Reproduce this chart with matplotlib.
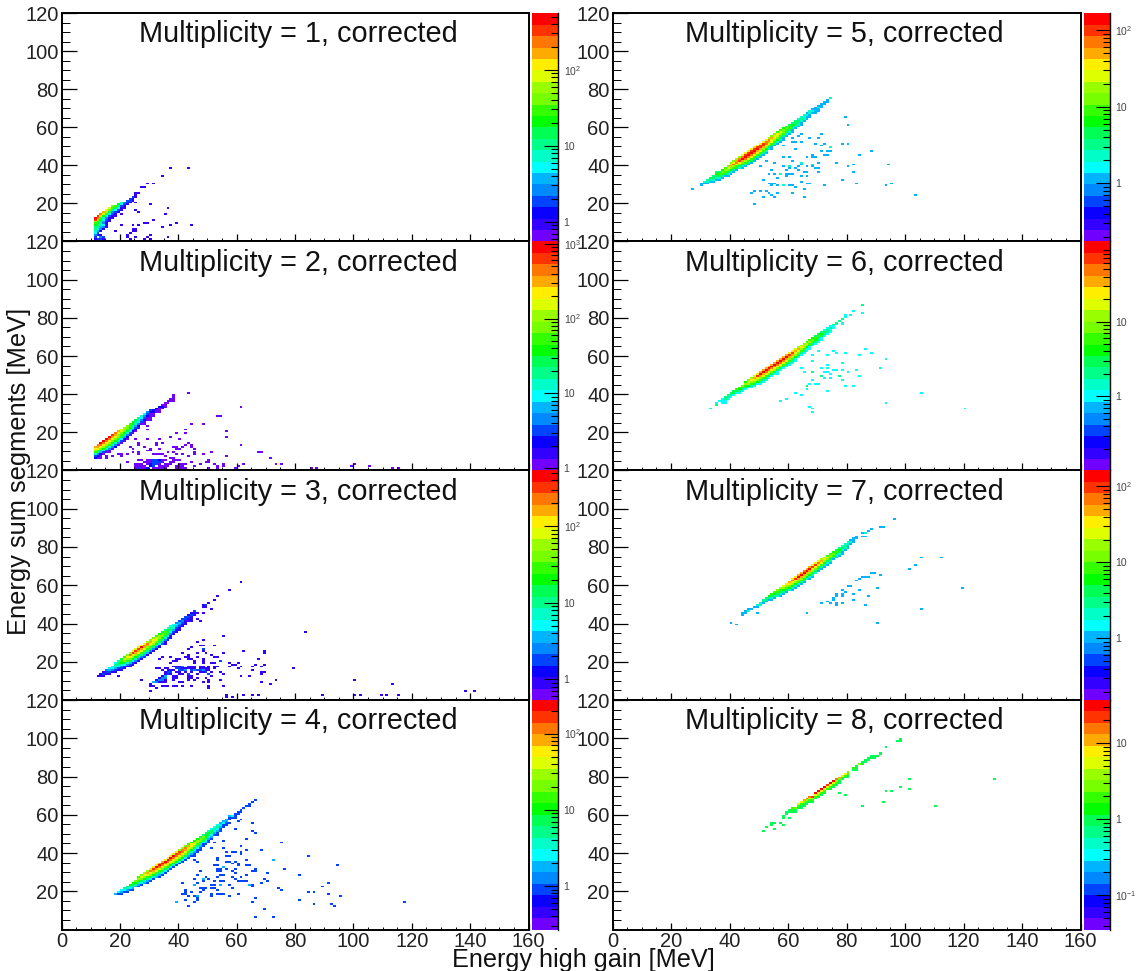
import numpy as np
import matplotlib
matplotlib.use('Agg')
import matplotlib.pyplot as plt
from matplotlib.colors import ListedColormap, LogNorm
from matplotlib.ticker import FixedLocator, MultipleLocator, NullFormatter

plt.rcParams['font.family'] = ['Liberation Sans', 'DejaVu Sans']
plt.rcParams['mathtext.default'] = 'regular'

W, H = 1137, 971

# ROOT palette, 20 levels
palette = ['#7000ff', '#3300ff', '#0a00ff', '#0044ff', '#0088ff', '#00b4ff', '#00ffff', '#00ffc8', '#00ff88', '#00ff55',
           '#00ff00', '#33ff00', '#77ff00', '#99ff00', '#ddff00', '#ffee00', '#ffaa00', '#ff7700', '#ff3300', '#ff0000']

# log10 of colour scale limits
zlim_1 = (-0.26, 2.74)
zlim_2 = (-0.03, 3.03)
zlim_3 = (-0.27, 2.73)
zlim_4 = (-0.57, 2.44)
zlim_5 = (-0.76, 2.22)
zlim_6 = (-0.99, 2.07)
zlim_7 = (-0.81, 2.21)
zlim_8 = (-1.45, 1.57)

# ridge columns: (x bin, top y bin, counts going down)
ridge_1 = [(11,12,[400,300,60,30,20,12,10,8,5,3,2,1,2]), (12,13,[300,200,40,20,15,12,10,6,4,2,1,0,2,3]),
           (13,14,[200,120,30,18,12,10,8,4,3,1,0,1,3,2,3]), (14,15,[160,70,20,8,5,4,3,5,3,1,0,0,0,2,1,1]),
           (15,16,[120,60,25,8,3,2,1,1,1,1,0,0,0,0,0,0,1]), (16,17,[70,40,15,5,2,1,1,1]), (17,18,[40,25,10,3,2,1,1]),
           (18,18,[25,15,6,2,1,1]), (19,19,[18,12,5,2,1]), (20,20,[8,6,2,1,1,0,1]), (21,20,[3,2,1,1]), (22,21,[2,2,1]),
           (23,22,[2,2,1]), (24,23,[2,1,1]), (25,24,[1,1]), (26,25,[1])]
ridge_2 = [(11,12,[300,250,120,50,15,3,2]), (12,13,[400,350,150,60,20,5,2,1]), (13,14,[800,500,200,90,30,6,2,1]),
           (14,15,[900,500,200,100,40,10,3,1]), (15,16,[850,450,200,100,45,12,3,1]), (16,17,[800,400,200,100,50,15,4,1,1]),
           (17,18,[600,350,170,90,40,15,4,1]), (18,19,[400,300,150,80,40,15,4,2]), (19,20,[300,220,120,70,30,12,4,1]),
           (20,21,[180,170,90,50,25,10,3,1]), (21,22,[120,110,70,35,18,6,2,1]), (22,23,[90,80,50,25,12,4,2,1]),
           (23,24,[60,55,35,18,8,3,1]), (24,25,[40,35,22,12,5,2,1]), (25,26,[25,22,14,7,3,2,1]), (26,27,[18,14,9,4,2,1]),
           (27,28,[12,8,5,3,1]), (28,29,[8,5,3,2,1,1]), (29,30,[4,3,2,1,1]), (30,31,[3,2,1,1,1]), (31,31,[2,2,1,1]),
           (32,32,[2,1,1]), (33,33,[2,1,1,1]), (34,34,[1,2,1]), (35,35,[1,1,1]), (36,36,[1,1]), (37,37,[1,1]), (38,39,[1,1,1,1])]
ridge_3 = [(12,12,[1]), (13,13,[1,1]), (14,14,[1,2,1]), (15,15,[3,2,1]), (16,16,[5,4,2,1]), (17,17,[6,5,3,1]),
           (18,19,[5,10,8,4,2,1]), (19,20,[8,15,10,5,2,1]), (20,21,[15,30,20,8,3,2,1]), (21,22,[25,70,35,15,5,2,1]),
           (22,23,[40,120,60,25,8,3,1]), (23,24,[50,200,100,40,15,4,2,1]), (24,25,[90,350,130,50,18,6,2,1]),
           (25,26,[80,320,150,60,22,8,3,1]), (26,27,[70,300,160,70,25,10,3,1]), (27,28,[100,450,160,70,30,10,3,1]),
           (28,29,[80,250,170,70,30,10,4,2]), (29,30,[60,200,140,60,25,12,4,1]), (30,31,[45,170,110,55,25,10,3,1]),
           (31,32,[35,130,90,50,25,10,3,1]), (32,33,[30,90,70,40,20,8,3,1]), (33,34,[20,60,50,30,15,6,2,1]),
           (34,35,[15,40,35,22,10,4,2]), (35,36,[10,30,25,15,7,3,1,1]), (36,37,[8,20,15,10,5,2,1]), (37,38,[6,12,10,6,3,1,1]),
           (38,39,[5,8,7,4,2,1]), (39,40,[3,6,4,2,1,1]), (40,41,[2,4,3,2,1,1]), (41,42,[2,3,2,1,1]), (42,43,[2,2,1,1,1]),
           (43,44,[1,2,1,1]), (44,45,[1,2,1,1]), (45,46,[2,1,1])]
ridge_4 = [(18,18,[2]), (19,19,[3,1]), (20,20,[3,2,1]), (21,21,[5,3,1]), (22,22,[6,4,2,1]), (23,23,[9,6,3,1]),
           (24,24,[12,8,4,2,1]), (25,25,[18,12,5,2]), (26,27,[15,30,15,6,2,1]), (27,28,[20,40,20,8,3,1]),
           (28,29,[25,50,30,12,4,2]), (29,30,[30,70,40,15,6,2,1]), (30,31,[40,120,60,25,8,3,1]), (31,32,[50,150,80,30,12,4,1]),
           (32,33,[60,200,90,35,15,5,2]), (33,34,[70,220,100,40,15,6,2,1]), (34,35,[75,240,110,45,18,7,3,1]),
           (35,36,[60,230,120,50,20,8,3,1]), (36,37,[50,220,130,55,25,10,3,1]), (37,38,[50,220,130,60,25,10,3,1]),
           (38,39,[40,200,130,60,30,12,4,1]), (39,40,[35,180,120,60,25,10,3,1]), (40,41,[30,150,110,55,25,12,4,1]),
           (41,42,[25,120,100,50,22,10,3,1]), (42,43,[20,100,80,40,18,8,3,1]), (43,44,[15,80,60,30,15,6,2,1]),
           (44,45,[12,60,50,25,10,4,2,1]), (45,46,[10,45,40,20,8,3,2,1]), (46,47,[10,30,30,15,6,3,1,1]), (47,48,[8,25,20,10,5,2,1,1]),
           (48,49,[6,18,15,8,3,1,1]), (49,50,[5,12,10,5,3,2,1]), (50,51,[4,10,8,4,2,1,1]), (51,52,[3,8,6,3,2,1]), (52,53,[3,6,4,2,1]),
           (53,54,[3,5,3,2,1,1]), (54,55,[2,4,2,1,1]), (55,56,[2,3,1,1]), (56,57,[2,2,1,1]), (57,59,[2,1,1]), (58,59,[3,1]),
           (59,60,[1,1,1]), (60,61,[1,1]), (61,62,[1,1]), (62,63,[1]), (63,64,[1]), (64,65,[1,1]), (65,66,[1]), (66,67,[1])]
ridge_5 = [(30,30,[1,1]), (31,31,[2,1]), (32,32,[3,2,1]), (33,33,[5,2,1]), (34,34,[3,5,2,1]), (35,36,[3,7,5,2,1]),
           (36,36,[4,9,5,2,1]), (37,37,[7,12,8,3,1]), (38,38,[10,18,10,4,1]), (39,39,[15,30,12,5,2,1]), (40,41,[12,30,45,18,6,2,1]),
           (41,42,[15,40,60,20,8,3,1]), (42,43,[18,50,80,25,10,4,1]), (43,44,[20,60,90,35,12,5,2]), (44,45,[25,70,130,45,15,6,2,1]),
           (45,46,[30,90,150,60,20,8,3,1]), (46,47,[35,100,160,70,25,10,3,1]), (47,48,[40,110,150,70,30,10,4,1]),
           (48,49,[40,110,150,60,25,10,4,1]), (49,50,[35,100,130,55,25,10,3,1]), (50,51,[30,90,110,50,22,9,3,1]),
           (51,52,[30,90,90,45,18,8,3,1]), (52,53,[25,80,70,35,15,6,2,1]), (53,54,[20,60,55,30,12,5,2]), (54,55,[15,50,40,22,10,4,1,1]),
           (55,56,[12,40,30,18,8,3,1]), (56,57,[10,30,25,12,6,2,1]), (57,58,[8,22,18,10,4,2,1]), (58,59,[7,15,14,8,3,1,1]),
           (59,60,[5,12,10,5,2,1]), (60,61,[4,9,8,4,2,1]), (61,62,[3,7,5,3,1,1]), (62,63,[3,5,4,2,1]), (63,64,[2,4,3,2,1]),
           (64,65,[2,3,2,1,1]), (65,66,[2,2,2,1]), (66,67,[1,2,1,1]), (67,68,[2,2,1,1]), (68,69,[1,2,1]), (69,70,[1,1,1,1]),
           (70,71,[1,2,1,1]), (71,72,[1,1,1]), (72,73,[1,1]), (73,74,[1,1]), (74,75,[2])]
ridge_6 = [(35,35,[1,2]), (36,36,[1]), (37,37,[1,1,1]), (38,38,[2,2,1,1]), (39,39,[2,2,1]), (40,40,[3,2,1]), (41,41,[3,3,1]),
           (42,42,[5,3,1]), (43,43,[6,4,2,1]), (44,44,[8,5,2,1]), (45,46,[4,12,7,3,1]), (46,47,[8,18,10,4,1]), (47,48,[10,28,14,6,2,1]),
           (48,49,[15,40,20,8,3,1]), (49,50,[22,60,25,10,4,1]), (50,51,[30,100,35,14,5,2,1]), (51,52,[30,110,40,15,6,2,1]),
           (52,53,[35,100,45,18,6,2,1]), (53,54,[35,110,50,20,8,3,1]), (54,55,[40,100,50,22,8,3,1]), (55,56,[40,110,50,22,10,3,1]),
           (56,57,[35,100,50,20,8,3,1]), (57,58,[40,110,45,20,8,3,1]), (58,59,[35,100,45,18,7,3,1]), (59,60,[30,90,40,15,6,2,1]),
           (60,61,[25,70,35,14,6,2,1]), (61,62,[22,60,30,12,5,2,1]), (62,63,[15,40,20,10,4,1,1]), (63,64,[12,30,18,8,3,1]),
           (64,65,[10,25,14,7,2,1]), (65,66,[8,20,12,5,2,1]), (66,67,[6,15,9,4,1,1]), (67,68,[5,10,7,3,1,1]), (68,69,[4,8,5,2,1]),
           (69,70,[3,6,4,2,1]), (70,71,[3,5,3,2,1]), (71,72,[2,4,3,1,1]), (72,73,[1,3,2,1]), (73,74,[1,2,2,1]), (74,75,[1,2,1,1]),
           (75,76,[2,1,1]), (76,77,[2,1]), (77,78,[2]), (78,79,[2,0,1,1]), (79,80,[1])]
ridge_7 = [(44,45,[1,1]), (45,46,[1,1]), (46,47,[1,2]), (47,47,[1]), (48,48,[1]), (49,49,[2,1]), (50,50,[2,2]), (51,52,[3,3,1]),
           (52,53,[5,3,1]), (53,54,[6,3,1]), (54,55,[8,5,2,1]), (55,56,[10,6,3,1]), (56,57,[12,8,4,2]), (57,58,[18,10,5,2,1]),
           (58,59,[25,15,7,3,1]), (59,60,[35,20,10,4,1]), (60,61,[50,30,14,6,2]), (61,63,[30,70,35,15,6,2,1]), (62,64,[40,100,40,18,6,2,1]),
           (63,65,[50,120,45,20,8,2,1]), (64,66,[50,150,50,20,8,3,1]), (65,67,[60,130,55,20,7,3,1]), (66,68,[50,140,50,20,6,2]),
           (67,69,[50,130,50,18,6,2,1]), (68,70,[40,110,40,15,5,2,1]), (69,71,[30,100,35,12,5,2]), (70,72,[25,80,30,10,4,1]),
           (71,73,[20,50,25,8,3,1]), (72,74,[15,40,20,6,2,1]), (73,75,[10,30,14,5,2,1]), (74,76,[8,20,10,4,2,1]), (75,77,[6,12,8,3,1]),
           (76,78,[4,10,5,2,1]), (77,79,[3,6,4,2,1]), (78,80,[2,4,2,1,1]), (79,81,[2,3,2,1]), (80,82,[2,2,1,1]), (81,83,[1,2,1]),
           (82,84,[1,1,1]), (83,85,[1,1])]
ridge_8 = [(59,61,[1,1]), (60,62,[1,1]), (61,63,[2,2,1]), (62,63,[3,1,1]), (63,65,[5,2,1]), (64,66,[8,2,1,1]), (65,67,[10,3,1,1]),
           (66,68,[18,4,2,1]), (67,69,[14,5,2,1]), (68,69,[25,6,2,1]), (69,71,[30,8,2,1]), (70,72,[30,9,3,1]), (71,73,[28,8,2,1]),
           (72,74,[30,7,2,1]), (73,75,[25,6,2]), (74,76,[30,6,2,1]), (75,77,[28,5,2,1]), (76,78,[15,4,2,1]), (77,79,[12,3,1,1]),
           (78,80,[8,2,1]), (79,81,[5,2,1]), (80,82,[3,2,1,1]), (82,84,[2,1]), (83,85,[1,1,1]), (84,86,[3]), (85,87,[1,1]),
           (86,88,[1,1]), (87,89,[1,1]), (88,90,[1,1]), (89,90,[1,1])]

# isolated cells away from the ridge: (x, y) counted once
stray_1 = [(37.5,38.2),(43.3,38.2),(34.4,34),(31.4,30.8),(29.3,30.3),(28.5,28.2),(27.5,28.2),(26.4,25),(25.5,25),(25.5,20.8),(30.3,19.7),
           (36.5,17),(25.5,16),(26.6,15),(35.4,14),(31.4,11.9),(28.5,9.7),(29.3,9.7),(39.5,9.7),(44.3,8.7),(37.5,8.2),(34.4,7.1),(24.5,8.2),
           (26.6,8.2),(20.4,8.7),(18.4,5),(14.3,2.9),(24.6,6),(25.6,6),(24.6,5),(25.6,5),(22.5,3),(22.5,2.4),(23.5,4),(25.5,2.9),(30.3,3.9),
           (36.5,2.9),(29.3,2.4),(28.5,1.9),(30.3,1.9),(32.4,0.8),(23.5,1.9),(14.3,0.8),(1.6,0),(17,0),(18,0),(19,0),(20,0),(22,0),(23,0),(24,0),
           (25,0),(26,0),(27,0),(30,0),(32,0),(35.5,0),(41.6,0),(50.5,0),(56.3,0),(69.6,0)]
stray_2 = [(43.3,40.2),(61.4,33.9),(53,28),(54,28),(44.3,24.9),(48.4,24.9),(29.3,23.9),(30.3,26),(29.3,21.8),(42.3,21.8),(56.3,20.7),(39.5,19.1),
           (42.3,19.1),(37.5,17),(56.3,17),(25.5,16),(29.3,16),(33.4,16),(40.6,16),(43.3,14.9),(61.4,13.9),(26.6,14),(26.6,13),(28.6,12.8),
           (32.4,14),(32.4,13),(34.4,14),(38,12.8),(39,12.8),(41.6,12.8),(42.3,13.8),(44.3,13.8),(44.3,12.8),(45.3,11.8),(40.2,11.8),(39.5,11.8),
           (24.2,11.8),(30.7,11.8),(33.4,11.8),(23.5,12.8),(67.2,9.7),(68.2,9.7),(51.5,9.7),(45.3,9.7),(45.3,8.6),(48.4,8.6),(43.3,7),(56.3,7),
           (71.3,6),(41.6,8),(39.5,8),(38.2,9.7),(36.5,9.7),(38.2,6.5),(37.2,6.5),(35.5,7),(31.4,8.6),(32.4,8.6),(33.4,8.6),(34.4,8.6),(29.5,10.5),
           (30.5,10.5),(26.6,9.7),(26.6,8.6),(24.5,9.7),(22.5,8.6),(19.4,8.6),(20.4,8.6),(20.4,7.5),(17.4,7),(15.7,7),(15.7,6),(13.6,6),(22.5,4.9),
           (26.5,5.9),(27.5,5.9),(44.3,4.9),(50.5,5.9),(50.5,4.9),(49.5,4.9),(47.4,3.9),(52.5,3.9),(55.2,3.9),(55.2,2.8),(62.4,3.9),(73.3,3.9),
           (75.4,3.9),(60.4,2.8),(59.4,1.8),(45.3,2.8),(50.5,1.8),(53.5,2.8),(53.5,1.8),(61.4,0),(63.4,0),(65.5,0),(69.2,0),(71.3,0),(73.3,0),(77.4,0),
           (79.5,0),(81.6,0),(82.5,0),(45,0),(46.7,0),(52.5,0),(53.5,0),(100.5,3),(105.5,2),(113.5,1),(115.5,1),(118.5,0),(120.5,0),(99.5,2),
           (85.5,1),(87.5,1),(90.5,0),(94.5,0),
           (29,5),(30,5),(31,5),(32,5),(33,5),(34,5),(35,5),(38,5),(39,5),(40,5),
           (28,4),(29,4),(30,4),(31,4),(32,4),(33,4),(34,4),(37,4),(38,4),
           (25,3),(26,3),(27,3),(29,3),(30,3),(31,3),(32,3),(33,3),(35,3),(36,3),(37,3),(40,3),(41,3),(42,3),
           (25,2),(26,2),(27,2),(28,2),(30,2),(31,2),(33,2),(34,2),(35,2),(36,2),(39,2),(40,2),(41,2),
           (25,1),(26,1),(27,1),(28,1),(29,1),(31,1),(32,1),(33,1),(34,1),(35,1),(39,1),(40,1),(41,1),(42,1),
           (31,0),(34,0),(35,0),(40,0),(41,0),(42,0)]
stray_3 = [(61.4,61.6),(57.3,57.3),(53.5,54.2),(52.5,52.6),(50.5,50.5),(48.5,49.5),(49.5,49.5),(48.5,48.4),(49.5,48.4),(51.5,47.3),(46.4,45.2),
           (48.4,45.2),(46.4,42),(47.4,41),(44.3,41),(83.2,35.2),(55.2,33.1),(46.4,30.5),(48.4,31),(47.4,28.4),(48.4,28.4),(52.5,28.4),(44.3,27.3),
           (43.3,26.3),(48.4,26.3),(48.4,25.2),(49.4,24.2),(46.5,24.2),(41.6,24.2),(55.2,24.2),(62.4,25.2),(69.2,25.2),(69.2,24.2),(51.5,23.1),(52.5,22),
           (53.5,22),(39.5,21),(40.6,21.5),(43.3,23),(43.3,22),(43.3,21),(44.3,21),(46.4,22),(45.3,20.9),(48.4,21),(42.3,22),(34.4,22),(37.5,22),(33.4,21),
           (67.2,21),(37.5,19),(38.5,20),(39.5,20),(45.3,19),(48.4,20),(48.4,19),(51.5,19.4),(52.5,19),(54.6,20),(57.3,19.4),(60.4,19.4),(58.3,18.4),
           (59.3,18.4),(57,17.4),(61.4,17.4),(60.4,16.3),(65.5,17.4),(66.5,18.4),(69.2,18.4),(68.2,17.4),(65.5,15.2),(68.2,14.2),(69.2,14.2),(68.2,13.2),(79.5,16.3),
           (38,17),(39,17),(40,17),(41,17),(43,17),(44,17),(45,17),(47,17),(48,17),(50,17),(52,17),(53,17),
           (32,16),(33,16),(35,16),(36,16),(39,16),(40,16),(41,16),(42,16),(43,16),(44,16),(45,16),(47,16),(48,16),(49,16),(50,16),(52,16),
           (34,15),(36,15),(37,15),(38,15),(40,15),(41,15),(42,15),(44,15),(45,15),(46,15),(47,15),(48,15),(49,15),(50,15),
           (35,14),(36,14),(37,14),(39,14),(40,14),(42,14),(44,14),(47,14),(48,14),(49,14),(51,14),(54,14),
           (35,13),(36,13),(37,13),(40,13),(41,13),(43,13),(46,13),(50,13),(55,13),
           (34,12),(35,12),(38,12),(39,12),(43,12),(44,12),(51,12),(61,12),(64,12),(19,12),
           (33,11),(34,11),(35,11),(38,11),(39,11),(43,11),(44,11),(46,11),(49,11),
           (27,10),(32,10),(33,10),(34,10),(35,10),(38,10),(43,10),(45,10),(50,10),(54,10),(73,10),(100,10),
           (31,9),(32,9),(33,9),(34,9),(35,9),(40,9),(41,9),(48,9),(50,9),(68,9),(30,8),(71,8),(113,8),
           (30,7),(31,7),(34,7),(35,7),(36,7),(38,7),(39,7),(41,7),(44,7),(50,7),(55,7),
           (32,6),(50,6),(30,4),(138,4),(141,4),(56,2),(62,2),(65,2),(67,2),(89,2),(100,2),(102,2),(109,2),(111,2),(115,2),(56,1),(58,1)]
stray_4 = [(65.5,55.4),(61.4,57.5),(60.4,56.5),(57.3,55),(59.3,52.3),(65.5,51.2),(66.5,50.7),(63.4,47.5),(75.4,45.4),(55.2,46),(52.5,45.4),(61.4,43.3),(63.4,41.2),
           (68.2,41.2),(56.3,40.2),(58.5,40.2),(59.5,40.2),(61.4,40.2),(61.4,39),(51.5,42.3),(55.2,42.3),(84.3,38.6),(56.3,38.6),(57.3,38),(63.4,36.5),
           (53.5,37.5),(53.5,36.5),(45.3,38.6),(45.3,36.5),(46.4,35.4),(56.3,35),(57.3,35.4),(59.3,35.4),(58.3,34.5),(60.4,34.5),(60.4,33.3),(52,33.3),(53,33.3),(63,33.3),
           (64,33.3),(94.2,33.3),(56.3,31.8),(66.5,31.2),(76.4,31.2),(53,31.2),(54,31.2),(53,30.2),(54,30.2),(59.3,31.2),(58.3,30.2),(59.3,29.5),(59.3,29),(65,30.2),
           (66,30.2),(47.4,30.2),(70.3,29),(81.2,28.6),(46.4,28.6),(54.6,28),(55.6,28),(49.5,27.5),(53.5,27),(58.3,27.5),(61.4,27.5),(63.4,28),(45.3,26.5),(50.5,26.5),
           (52,25.5),(54,25.5),(55,25.5),(59.3,26.5),(60.4,25.5),(61.4,25.5),(62.4,25.5),(63.4,25.5),(70.3,25.5),(68.2,24.4),(69.2,26.5),(91.5,24.4),(41.6,24.4),(46.4,24.4),(48.4,25),
           (51,23.3),(52,23.3),(57.3,23.3),(65.5,23.3),(65.5,22.3),(89.4,22.3),(47,21.7),(48,21.7),(51,21.7),(52,21.7),(49.5,21.2),(53.5,20.5),(58.3,21.2),(74.4,21.2),(75.4,20.2),(42.6,20.2),
           (42.6,19.1),(44.3,19.1),(48.4,20.5),(47.4,19.5),(84.3,19.1),(86.3,19.1),(91.5,18),(95.2,17.5),(41,18),(42,18),(43,17.5),(45,17.5),(46.4,17.5),(51.5,18),(51.5,17),(54.6,18.5),
           (53.5,18),(55.2,18),(57.3,17.5),(60.4,18),(42.6,15.4),(45.3,14.4),(46.4,16.5),(46.4,15.4),(66.5,16.5),(81.2,15.4),(65.5,14.4),(117.4,14.4),(86.3,13.3),(92.5,13.3),(93.2,12.3),
           (43.3,12.3),(69.2,10.2),(66.5,6.5),(72.3,6.5)]
stray_5 = [(27.6,27.1),(79.5,65),(80.6,61.3),(78.6,51.3),(80.6,51.3),(88.5,47),(84.4,45),(71.4,47),(73.5,47),(74.5,47),(72.4,45),(73.5,45),(71.4,56),(70.4,54),(67.7,54),(64.6,56),
           (63.6,55),(64.6,52.9),(61.5,52.9),(62.5,52.9),(61.5,54),(69.7,51.8),(72.4,51.8),(71.4,50.2),(62.5,48.1),(58.4,50.2),(68.7,45),(68.7,44),(69.7,44),(66.6,44),(61.5,42.9),(60.5,44),
           (58.4,44),(52.6,42.9),(55.7,41.8),(70.4,41.8),(76.5,41.8),(64.6,40.8),(63.6,39.7),(50.6,39.2),(58.4,39.2),(60.5,38.1),(62.5,38.1),(66.6,39.2),(68.7,39.2),(69.7,38.1),(70.4,38.1),
           (80.6,39.2),(82.7,40.2),(94.7,40.2),(54.7,37),(59.5,37),(63.6,37),(65.6,36),(66.6,36),(70.4,36),(82.7,36),(53.6,35),(55.7,35),(59.5,35),(60.5,35),(61.5,35),(59.5,34),(56.7,33.4),
           (64.6,34),(66.6,34),(51.6,32.9),(78.6,32.9),(64.6,31.8),(53.6,30.7),(54.6,30.7),(55.7,30.7),(66.6,30.7),(67.7,30.7),(83.4,30.7),(95.4,30.7),(54.7,29.7),(56.7,29.7),(60.5,29.2),(61.5,29.7),
           (72.4,29.7),(93.7,29.7),(62.5,28.1),(65.6,27.1),(50.6,26.5),(48.5,26),(47.5,25),(52.6,26),(53.6,25),(56.7,25.5),(61.5,25),(54.7,24),(51.6,23),(55.7,23),(65.6,23),(103.5,24),(48.5,19.7)]
stray_6 = [(82.7,83.4),(85.4,82.3),(79.6,81.3),(79.6,80.3),(81.6,81.3),(33.4,32.9),(35.5,35.3),(86.4,63.9),(75.5,62.9),(76.5,61.8),(79.6,61.8),(88.5,61.3),(73.4,60.2),(84.4,60.2),(70.4,62.9),
           (68.6,60.2),(93.6,58.1),(68.6,57),(78.6,56),(64.5,53.9),(71.4,53.9),(73.4,55),(73.4,53.9),(75.5,52.9),(76.5,52.9),(78.6,52.9),(83.3,52.9),(91.5,53.9),(65.6,51.8),(72.4,51.3),(73.4,51.3),
           (80.6,51.8),(56.7,50.2),(74.5,50.2),(84.4,49.2),(72.4,48.1),(74.5,48.1),(68.6,47),(78.6,47),(67.6,45),(69.7,45),(70.4,45),(66.6,42.9),(79.6,44),(82.7,44),(73.4,41.8),(62.5,40.2),(64.5,39.2),
           (105.6,40.2),(59.4,37),(57.7,36),(93.6,35),(67.6,33.9),(68.6,32.9),(68.6,30.7),(120.6,32.9)]
stray_7 = [(96.3,94.2),(91.6,90.5),(92.6,90.5),(88.5,89.5),(87.5,88.4),(85.4,87.4),(85.4,85.3),(86.4,85.3),(105.6,74.2),(112.4,74.2),(103.5,70.5),(101.5,68.4),(88.5,66.3),(89.5,66.3),(91.6,65.3),
           (85.4,64.2),(86.4,64.2),(87.5,64.2),(84.4,63.2),(83.3,62.1),(80.6,59.5),(81.6,59.5),(78.6,57.4),(84.4,57.4),(90.5,58.4),(119.6,58.4),(79.6,56.3),(76.5,55.3),(76.5,54.2),(78.6,55.3),(78.6,54.2),
           (82.7,55.3),(87.5,54.2),(75.5,53.2),(75.5,52),(82.7,52),(71.4,50.5),(73.4,51),(74.5,50.5),(76.5,50.5),(76.5,49.5),(78.6,50.5),(86.4,49.5),(105.6,47.4),(49.5,45.3),(66.6,45.3),(40.6,40),(42.7,39.5),(90.5,40)]
stray_8 = [(51.6,51.3),(52.6,53.4),(54.6,55.5),(54.6,54.5),(55.7,55.5),(55.7,52.4),(57.4,55.5),(58.4,54.5),(60.5,58.7),(58.4,59.7),(58.4,58.7),(85.4,64.5),(92.6,66.6),(110.4,64.5),(93.6,72.9),
           (95.3,72.9),(98.4,74.5),(101.5,73.4),(101.5,78.7),(130.5,78.7),(79.6,70.8),(77.6,71.8),(98.4,99.2),(97.4,98.7),(98.4,98.7),(93.6,95),(91.6,92.4),(91.6,91.4),(89.1,90),(90,90),(88,89)]

# cells holding more than one count: (x, y, count)
bright_1 = [(17,0,3),(18,0,3),(19,0,3),(20,0,2),(24,0,2)]
bright_2 = [(23,0,5),(24,0,8),(25,0,6),(26,0,5),(27,0,3),(28,0,5),(29,0,5),(30,0,8),(31,4,3),(32,4,3),(33,4,3),(31,5,3),(32,5,3),(33,5,2),
            (30,3,2),(31,3,3),(32,3,3),(30,2,2),(31,2,3),(29,1,2),(26,1,3),(53,0,3),(17,0,3)]
bright_3 = [(33,10,3),(34,10,3),(34,11,3),(35,11,3),(35,12,4),(36,13,2),(37,14,2),(36,14,2),(40,15,2),(41,15,2),(42,15,3),(44,15,2),(45,15,3),(46,15,2),
            (47,15,2),(48,15,3),(49,14,2),(39,16,2),(40,16,2),(41,17,3),(43,17,2),(31,9,4),(32,9,3),(43,13,2),(54,20,2),(48,26,2),(49,49,2),(50,13,2)]
bright_4 = [(72.3,36.5,2),(55.2,32,2),(48.4,26,2),(45.3,23.3,2),(54.6,23.3,2),(64.5,23.3,2),(46,17.5,2),(39.5,14.4,2)]
bright_5 = [(74.5,49.3,2),(64.6,41.8,2),(68.7,40.8,2),(60.5,39.2,2),(57.4,35.5,2),(58.4,29.2,2)]
bright_6 = [(85.4,86,2),(68.6,51.8,2),(71.4,49.2,2),(77.5,49.2,2),(66.6,44,2)]
bright_7 = [(86.4,87.4,2)]
bright_8 = []

panels = [(1, ridge_1, stray_1, bright_1, zlim_1), (2, ridge_2, stray_2, bright_2, zlim_2), (3, ridge_3, stray_3, bright_3, zlim_3), (4, ridge_4, stray_4, bright_4, zlim_4),
          (5, ridge_5, stray_5, bright_5, zlim_5), (6, ridge_6, stray_6, bright_6, zlim_6), (7, ridge_7, stray_7, bright_7, zlim_7), (8, ridge_8, stray_8, bright_8, zlim_8)]
cbar_ticks = {1: [1, 10, 100], 2: [1, 10, 100, 1000], 3: [1, 10, 100], 4: [1, 10, 100],
              5: [1, 10, 100], 6: [0.1, 1, 10], 7: [1, 10, 100], 8: [0.1, 1, 10]}

row_edges = [13.5, 241.5, 470.5, 700, 929.5]
col_edges = [(61.5, 528.5, 532, 558), (612.5, 1080.5, 1083.5, 1109.5)]
cmap = ListedColormap(palette)
x_edges = np.arange(0, 161)
y_edges = np.arange(0, 121)


def add_axes_px(fig, left, right, top, bottom):
    return fig.add_axes([left / W, 1 - bottom / H, (right - left) / W, (bottom - top) / H])


def tick_label(v):
    if v == 1:
        return '1'
    if v == 10:
        return '10'
    return '$10^{%d}$' % round(np.log10(v))


def fill_counts(ridge, stray, bright):
    counts = np.zeros((120, 160))
    for x, y in stray:
        counts[int(y), int(x)] = 1
    for x, y, v in bright:
        counts[int(y), int(x)] = v
    for x, top, vals in ridge:
        for i, v in enumerate(vals):
            if v > 0:
                counts[top - i, x] = max(counts[top - i, x], v)
    return counts


fig = plt.figure(figsize=(W / 100, H / 100), dpi=100)

for n, ridge, stray, bright, zlim in panels:
    col = 0 if n <= 4 else 1
    row = (n - 1) % 4
    left, right, c_left, c_right = col_edges[col]
    top, bottom = row_edges[row], row_edges[row + 1]
    norm = LogNorm(10 ** zlim[0], 10 ** zlim[1])

    ax = add_axes_px(fig, left, right, top, bottom)
    counts = fill_counts(ridge, stray, bright)
    ax.pcolormesh(x_edges, y_edges, np.ma.masked_equal(counts, 0), cmap=cmap, norm=norm, antialiased=False, linewidth=0)
    ax.set_xlim(0, 160)
    ax.set_ylim(0, 120)
    ax.xaxis.set_major_locator(MultipleLocator(20))
    ax.xaxis.set_minor_locator(MultipleLocator(5))
    ax.yaxis.set_major_locator(FixedLocator(range(20, 121, 20)))
    ax.yaxis.set_minor_locator(MultipleLocator(5))
    ax.tick_params(axis='x', which='major', direction='in', length=5, width=0.9, labelsize=14.5, pad=1.5,
                   labelbottom=(row == 3), labelcolor='#222222')
    ax.tick_params(axis='x', which='minor', direction='in', length=2.5, width=0.7)
    ax.tick_params(axis='y', which='major', direction='in', length=11, width=0.9, labelsize=14.5, pad=2, labelcolor='#222222')
    ax.tick_params(axis='y', which='minor', direction='in', length=5.5, width=0.7)
    for s in ax.spines.values():
        s.set_linewidth(1.4)
    ax.text(0.507 if col == 0 else 0.495, 0.908, 'Multiplicity = %d, corrected' % n, transform=ax.transAxes,
            ha='center', va='center', fontsize=20.8, color='#111111')

    # colour bar, ticks on the inside of its right edge
    cax = add_axes_px(fig, c_left, c_right, top, bottom)
    z_edges = np.logspace(zlim[0], zlim[1], 21)
    z_mid = np.sqrt(z_edges[:-1] * z_edges[1:])
    cax.pcolormesh([0, 1], z_edges, z_mid.reshape(-1, 1), cmap=cmap, norm=norm, antialiased=False, linewidth=0)
    cax.set_yscale('log')
    cax.set_ylim(10 ** zlim[0], 10 ** zlim[1])
    cax.set_xticks([])
    cax.yaxis.tick_right()
    cax.yaxis.set_major_locator(FixedLocator(cbar_ticks[n]))
    cax.yaxis.set_major_formatter(plt.FuncFormatter(lambda v, p: tick_label(v)))
    minor = [m * 10.0 ** e for e in range(-2, 4) for m in range(2, 10)]
    cax.yaxis.set_minor_locator(FixedLocator(minor))
    cax.yaxis.set_minor_formatter(NullFormatter())
    cax.tick_params(axis='y', which='major', direction='in', length=10, width=0.8, labelsize=7.5, labelcolor='#444444', pad=4)
    cax.tick_params(axis='y', which='minor', direction='in', length=5, width=0.8)
    for name, s in cax.spines.items():
        s.set_visible(name == 'right')
        s.set_linewidth(1)

fig.text(583 / W, 1 - 960 / H, 'Energy high gain [MeV]', ha='center', va='center', fontsize=18.2, color='#111111')
fig.text(19.5 / W, 1 - 471 / H, 'Energy sum segments [MeV]', ha='center', va='center', rotation=90, fontsize=18.4, color='#111111')

fig.savefig('out.png', dpi=100)
